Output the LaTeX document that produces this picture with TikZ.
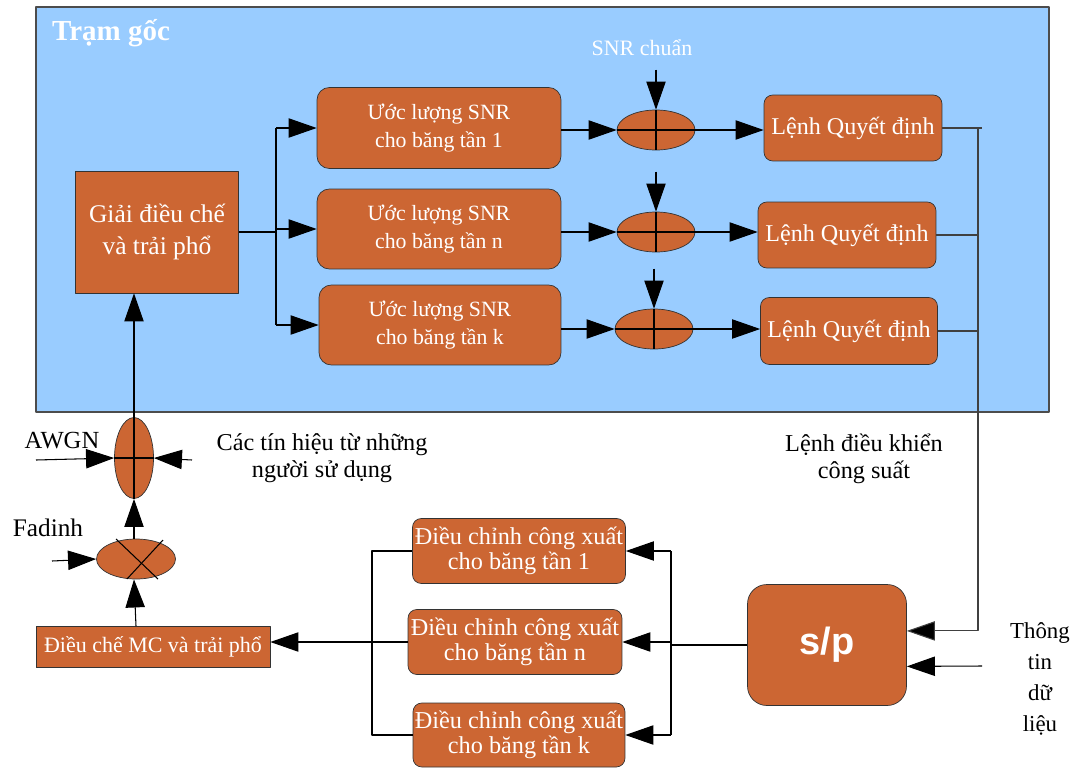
\documentclass[tikz,border=0pt]{standalone}
\usepackage{fontspec}
\setmainfont{Liberation Serif}
\newfontfamily\spfont{Liberation Sans}
\usetikzlibrary{arrows.meta,shapes.geometric,positioning,calc}
\definecolor{camcol}{HTML}{CC6633}
\definecolor{nencol}{HTML}{99CCFF}
\begin{document}
\begin{tikzpicture}[x=0.02cm,y=-0.02cm, line join=round, >={Triangle[length=16pt,width=11pt]},
	khoi/.style={draw=black!80, fill=camcol, text=white, align=center, inner sep=1pt},
	khoitron/.style={khoi, rounded corners=7pt},
	tong/.style={draw=black!80, fill=camcol, ellipse, inner sep=0pt},
	noi/.style={black, line width=0.6pt},
	chu/.style={align=center, font=\fontsize{13.8}{15.5}\selectfont}] %Điều khiển công suất
	\useasboundingbox (0,0) rectangle (1076,768);
	\draw[draw=black!70, line width=0.8pt, fill=nencol] (36,7) rectangle (1049,412);
	\node[text=white, font=\bfseries\fontsize{16.5}{18}\selectfont] (tram) at (111,33) {Trạm gốc};
	\node[text=white, font=\fontsize{12.5}{14}\selectfont] (snr) at (642,48) {SNR chuẩn};
	% khối trong trạm gốc
	\node[khoi, minimum width=3.26cm, minimum height=2.44cm, font=\fontsize{14.5}{18}\selectfont] (giai) at (157,232) {Giải điều chế\\và trải phổ};
	\node[khoitron, minimum width=4.88cm, minimum height=1.62cm, font=\fontsize{12.4}{15.5}\selectfont] (uoc1) at (439,128) {Ước lượng SNR\\cho băng tần 1};
	\node[khoitron, minimum width=4.88cm, minimum height=1.6cm, font=\fontsize{12.4}{15.5}\selectfont] (uoc2) at (439,229) {Ước lượng SNR\\cho băng tần n};
	\node[khoitron, minimum width=4.84cm, minimum height=1.6cm, font=\fontsize{12.4}{15.5}\selectfont] (uoc3) at (440,325) {Ước lượng SNR\\cho băng tần k};
	\node[tong, minimum width=1.56cm, minimum height=0.8cm] (tong1) at (656,130) {};
	\node[tong, minimum width=1.56cm, minimum height=0.8cm] (tong2) at (656,232) {};
	\node[tong, minimum width=1.56cm, minimum height=0.8cm] (tong3) at (654,329) {};
	\node[khoitron, minimum width=3.56cm, minimum height=1.32cm, rounded corners=5pt, font=\fontsize{13.7}{15}\selectfont] (lenh1) at (853,128) {Lệnh Quyết định};
	\node[khoitron, minimum width=3.56cm, minimum height=1.32cm, rounded corners=5pt, font=\fontsize{13.7}{15}\selectfont] (lenh2) at (847,235) {Lệnh Quyết định};
	\node[khoitron, minimum width=3.54cm, minimum height=1.34cm, rounded corners=5pt, font=\fontsize{13.7}{15}\selectfont] (lenh3) at (849,331) {Lệnh Quyết định};
	% khối phía phát
	\node[khoitron, minimum width=3.18cm, minimum height=2.42cm, rounded corners=11pt, font=\spfont\bfseries\fontsize{21.6}{24}\selectfont] (sp) at (827,645) {s/p};
	\node[khoitron, minimum width=4.26cm, minimum height=1.3cm, rounded corners=5pt, font=\fontsize{13.8}{14.3}\selectfont] (dc1) at (519,551) {Điều chỉnh công xuất\\cho băng tần 1};
	\node[khoitron, minimum width=4.28cm, minimum height=1.3cm, rounded corners=5pt, font=\fontsize{13.8}{14.3}\selectfont] (dcn) at (515,642) {Điều chỉnh công xuất\\cho băng tần n};
	\node[khoitron, minimum width=4.24cm, minimum height=1.28cm, rounded corners=5pt, font=\fontsize{13.8}{14.3}\selectfont] (dck) at (519,735) {Điều chỉnh công xuất\\cho băng tần k};
	\node[khoi, minimum width=4.68cm, minimum height=0.82cm, font=\fontsize{12.5}{14}\selectfont] (mc) at (153,647) {Điều chế MC và trải phổ};
	\node[tong, minimum width=1.58cm, minimum height=0.8cm] (nhan) at (136,559) {};
	\node[tong, minimum width=0.78cm, minimum height=1.62cm] (awgn) at (134,458) {};
	% nhãn
	\node[chu, font=\fontsize{14}{16}\selectfont] (awgnlbl) at (62,441) {AWGN};
	\node[chu] (tinhieu) at (322,458) {Các tín hiệu từ những\\người sử dụng};
	\node[chu, font=\fontsize{14.4}{16}\selectfont] (fad) at (48,528) {Fadinh};
	\node[chu] (lenhdk) at (864,459) {Lệnh điều khiển\\công suất};
	\node[chu, font=\fontsize{13}{17.6}\selectfont] (thongtin) at (1040,679) {Thông\\tin\\dữ\\liệu};
	% đường nối trong trạm gốc
	\coordinate (re) at (276,0);
	\draw[noi] (giai.east) -- (re |- giai.east);
	\draw[noi] (re |- uoc1.west) -- (re |- uoc3.west);
	\draw[noi,->] (re |- uoc1.west) -- (uoc1.west);
	\draw[noi,->] (re |- uoc2.west) -- (uoc2.west);
	\draw[noi,->] (re |- uoc3.west) -- (uoc3.west);
	\draw[noi,->] (uoc1.east |- tong1.west) -- (tong1.west);
	\draw[noi,->] (uoc2.east |- tong2.west) -- (tong2.west);
	\draw[noi,->] (uoc3.east |- tong3.west) -- (tong3.west);
	\draw[noi,->] (tong1.east) -- (lenh1.west |- tong1.east);
	\draw[noi,->] (tong2.east) -- (lenh2.west |- tong2.east);
	\draw[noi,->] (tong3.east) -- (lenh3.west |- tong3.east);
	\coordinate[above=0.8cm of tong1.north] (chuan1);
	\coordinate[above=0.8cm of tong2.north] (chuan2);
	\coordinate[above=0.8cm of tong3.north] (chuan3);
	\draw[noi,->] (chuan1) -- (tong1.north);
	\draw[noi,->] (chuan2) -- (tong2.north);
	\draw[noi,->] (chuan3) -- (tong3.north);
	\draw[noi] (tong1.north) -- (tong1.south) (tong1.west) -- (tong1.east);
	\draw[noi] (tong2.north) -- (tong2.south) (tong2.west) -- (tong2.east);
	\draw[noi] (tong3.north) -- (tong3.south) (tong3.west) -- (tong3.east);
	% lệnh điều khiển về s/p
	\coordinate (bus) at (978,0);
	\draw[noi, black!75] (lenh1.east) -- ($(bus |- lenh1.east)+(4,0)$);
	\draw[noi, black!75] (lenh2.east) -- (bus |- lenh2.east);
	\draw[noi, black!75] (lenh3.east) -- (bus |- lenh3.east);
	\draw[noi, black!75, -{Triangle[length=16pt,width=11pt,fill=black]}] (bus |- lenh1.east) -- (bus |- sp.10) -- (sp.10);
	\coordinate (dulieu) at (982,666);
	\draw[noi,->] (dulieu) -- (sp.-15);
	% s/p đến các khối điều chỉnh
	\coordinate (tach) at (671,0);
	\draw[noi] (sp.west) -- (tach |- sp.west);
	\draw[noi] (tach |- dc1.east) -- (tach |- dck.east);
	\draw[noi,->] (tach |- dc1.east) -- (dc1.east);
	\draw[noi,->] (tach |- dcn.east) -- (dcn.east);
	\draw[noi,->] (tach |- dck.east) -- (dck.east);
	\coordinate (gom) at (372,0);
	\draw[noi] (dc1.west) -- (gom |- dc1.west) -- (gom |- dck.west) -- (dck.west);
	\draw[noi,->] (dcn.west) -- (mc.east |- dcn.west);
	% kênh truyền
	\draw[noi,->] (mc.north -| nhan.south) -- ($(nhan.south)+(-2,0)$);
	\draw[noi] ($(nhan.center)+(-20,-20)$) -- ($(nhan.center)+(22,20)$);
	\draw[noi] ($(nhan.center)+(27,-19)$) -- ($(nhan.center)+(-9,20)$);
	\coordinate (fading) at (52,561);
	\draw[noi,->] (fading) -- (nhan.west);
	\draw[noi,->] (nhan.north -| awgn.south) -- (awgn.south);
	\draw[noi] (awgn.north) -- (awgn.south) (awgn.west) -- (awgn.east);
	\coordinate (nhieu) at (36,460);
	\coordinate (nguoidung) at (192,460);
	\draw[noi,->] (nhieu) -- (awgn.west);
	\draw[noi,->] (nguoidung) -- (awgn.east);
	\draw[noi,->] (awgn.north) -- (awgn.north |- giai.south);
\end{tikzpicture}
\end{document}
